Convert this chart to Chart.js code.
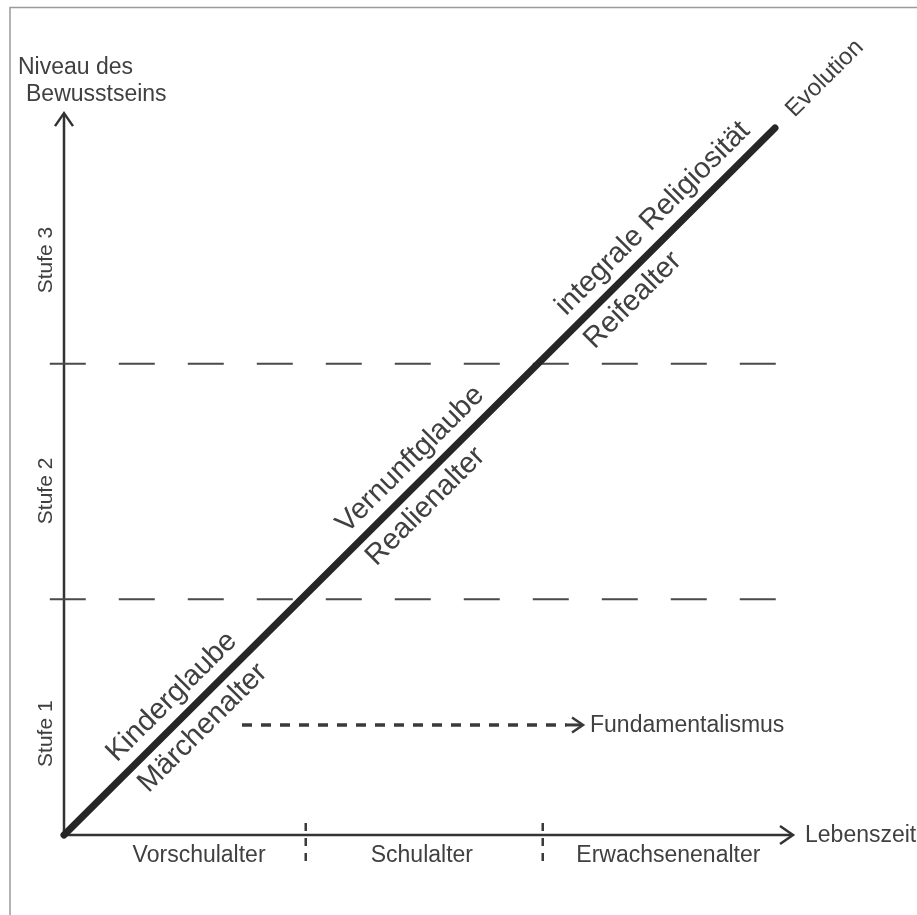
<!DOCTYPE html>
<html><head><meta charset="utf-8">
<script src="https://cdn.jsdelivr.net/npm/chart.js@4.4.0/dist/chart.umd.min.js"></script>
<style>html,body{margin:0;padding:0;background:#fff;overflow:hidden}canvas{display:block}</style>
</head><body><canvas id="c" width="917" height="915"></canvas>
<script>
// ---- data ----
const stageNames = ['Stufe 1', 'Stufe 2', 'Stufe 3'];
const stageBoundaries = [1, 2];
const phaseNames = ['Vorschulalter', 'Schulalter', 'Erwachsenenalter'];
const phaseBoundaries = [1.02, 2.02];
const developmentLine = [{x: 0, y: 0}, {x: 3, y: 3}];
const faithLabels = ['Kinderglaube', 'Vernunftglaube', 'integrale Religiosität'];
const ageLabels = ['Märchenalter', 'Realienalter', 'Reifealter'];
const fundamentalismLevel = 0.467;
const fundamentalismRange = [0.751, 2.19];
const fundamentalismLabel = 'Fundamentalismus';
const xAxisTitle = 'Lebenszeit';
const yAxisTitle = ['Niveau des', 'Bewusstseins'];
const evolutionLabel = 'Evolution';

// ---- layout (positions along scales) ----
const faithAt = [0.52, 1.527, 2.55];
const ageAt = [0.52, 1.46, 2.335];
const evolutionAt = 3.21;
const stageLabelAt = [0.43, 1.46, 2.44];
const phaseLabelAt = [0.57, 1.51, 2.55];
const xArrowTip = 3.076, yArrowTip = 3.063;

const TXT = '#404040', LINE = '#333333';
const FONT = '"Liberation Sans", Arial, sans-serif';

const datasets = [];
datasets.push({
  data: developmentLine, borderColor: '#262626', borderWidth: 7,
  borderCapStyle: 'round', pointRadius: 0, clip: false, order: 0
});
stageBoundaries.forEach(v => datasets.push({
  data: [{x: -0.06, y: v}, {x: 3.02, y: v}], borderColor: '#4a4a4a', borderWidth: 2,
  borderDash: [36, 33], pointRadius: 0, clip: false, order: 2
}));
phaseBoundaries.forEach(v => datasets.push({
  data: [{x: v, y: 0.051}, {x: v, y: -0.127}], borderColor: '#3a3a3a', borderWidth: 2.5,
  borderDash: [8, 7], pointRadius: 0, clip: false, order: 2
}));
datasets.push({
  data: [{x: fundamentalismRange[0], y: fundamentalismLevel}, {x: fundamentalismRange[1] - 0.07, y: fundamentalismLevel}],
  borderColor: '#3a3a3a', borderWidth: 3.5, borderDash: [10, 9], pointRadius: 0, clip: false, order: 2
});

function chevron(ctx, tx, ty, dx, dy, len, half) {
  // dx,dy unit direction of arrow
  const bx = tx - dx * len, by = ty - dy * len;
  ctx.beginPath();
  ctx.moveTo(bx - dy * half, by + dx * half);
  ctx.lineTo(tx, ty);
  ctx.lineTo(bx + dy * half, by - dx * half);
  ctx.stroke();
}

const decor = {
  id: 'decor',
  beforeDatasetsDraw(chart) {
    const ctx = chart.ctx, xs = chart.scales.x, ys = chart.scales.y;
    const x0 = xs.getPixelForValue(0), y0 = ys.getPixelForValue(0);
    ctx.save();
    // frame
    ctx.strokeStyle = '#9a9a9a'; ctx.lineWidth = 1.5;
    ctx.beginPath(); ctx.moveTo(10, 915); ctx.lineTo(10, 7.5); ctx.lineTo(917, 7.5); ctx.stroke();
    // axes
    ctx.strokeStyle = LINE; ctx.lineWidth = 2.5; ctx.lineCap = 'butt';
    const yt = ys.getPixelForValue(yArrowTip), xt = xs.getPixelForValue(xArrowTip);
    ctx.beginPath(); ctx.moveTo(x0, y0 + 1); ctx.lineTo(x0, yt + 1); ctx.stroke();
    ctx.beginPath(); ctx.moveTo(x0 - 1, y0); ctx.lineTo(xt - 1, y0); ctx.stroke();
    ctx.lineJoin = 'miter';
    chevron(ctx, x0, yt, 0, -1, 13, 9);
    chevron(ctx, xt, y0, 1, 0, 13, 9);
    ctx.restore();
  },
  afterDatasetsDraw(chart) {
    const ctx = chart.ctx, xs = chart.scales.x, ys = chart.scales.y;
    const x0 = xs.getPixelForValue(0), y0 = ys.getPixelForValue(0);
    ctx.save();
    // fundamentalism arrow
    const fy = ys.getPixelForValue(fundamentalismLevel);
    const fs = xs.getPixelForValue(fundamentalismRange[1] - 0.075), ft = xs.getPixelForValue(fundamentalismRange[1]);
    ctx.strokeStyle = '#3a3a3a'; ctx.lineWidth = 3;
    ctx.beginPath(); ctx.moveTo(fs, fy); ctx.lineTo(ft - 1, fy); ctx.stroke();
    ctx.lineWidth = 2.5;
    chevron(ctx, ft, fy, 1, 0, 11, 7.5);
    ctx.fillStyle = TXT;
    ctx.font = '23px ' + FONT; ctx.textBaseline = 'middle'; ctx.textAlign = 'left';
    ctx.fillText(fundamentalismLabel, ft + 7, fy + 1);
    // axis titles
    ctx.fillText(xAxisTitle, xs.getPixelForValue(xArrowTip) + 12, y0 + 1);
    ctx.fillText(yAxisTitle[0], 18, 68);
    ctx.fillText(yAxisTitle[1], 26, 95);
    // phase labels
    ctx.textAlign = 'center';
    phaseNames.forEach((n, i) => ctx.fillText(n, xs.getPixelForValue(phaseLabelAt[i]), y0 + 21));
    // stage labels
    ctx.font = '21px ' + FONT;
    stageNames.forEach((n, i) => {
      ctx.save();
      ctx.translate(46, ys.getPixelForValue(stageLabelAt[i]));
      ctx.rotate(-Math.PI / 2);
      ctx.fillText(n, 0, 0);
      ctx.restore();
    });
    // diagonal labels
    const p0 = {x: xs.getPixelForValue(developmentLine[0].x), y: ys.getPixelForValue(developmentLine[0].y)};
    const p1 = {x: xs.getPixelForValue(developmentLine[1].x), y: ys.getPixelForValue(developmentLine[1].y)};
    const ang = Math.atan2(p1.y - p0.y, p1.x - p0.x);
    const dx = Math.cos(ang), dy = Math.sin(ang);
    const nx = dy, ny = -dx; // normal pointing up-left
    function diagText(t, off, txt, size) {
      const px = xs.getPixelForValue(t), py = ys.getPixelForValue(t);
      ctx.save();
      ctx.translate(px + nx * off, py + ny * off);
      ctx.rotate(ang);
      ctx.font = size + 'px ' + FONT;
      ctx.textAlign = 'center'; ctx.textBaseline = 'middle';
      ctx.fillText(txt, 0, 0);
      ctx.restore();
    }
    faithLabels.forEach((n, i) => diagText(faithAt[i], 22, n, 29));
    ageLabels.forEach((n, i) => diagText(ageAt[i], -22, n, 29));
    diagText(evolutionAt, 0, evolutionLabel, 24);
    ctx.restore();
  }
};

new Chart(document.getElementById('c'), {
  type: 'line',
  data: {datasets},
  options: {
    responsive: false, animation: false, devicePixelRatio: 1,
    layout: {padding: {left: 64, right: 142, top: 128, bottom: 80}},
    plugins: {legend: {display: false}, tooltip: {enabled: false}},
    scales: {
      x: {type: 'linear', min: 0, max: 3, display: false},
      y: {type: 'linear', min: 0, max: 3, display: false}
    }
  },
  plugins: [decor]
});
</script>
</body></html>
